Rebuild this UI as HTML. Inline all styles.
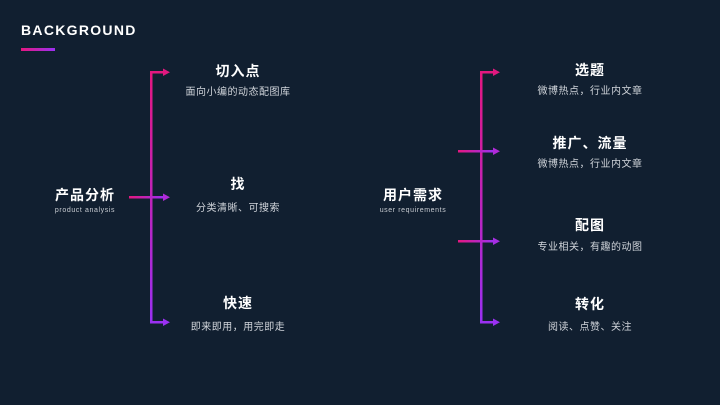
<!DOCTYPE html>
<html><head><meta charset="utf-8"><style>
body{margin:0;background:#111f30;}
svg{display:block}
text{font-family:"Liberation Sans","Noto Sans CJK SC",sans-serif;fill:#fff;text-anchor:middle}
.t{font-size:14px;font-weight:bold;letter-spacing:1px}
.s{font-size:10px;fill:#d0d4da;letter-spacing:0.5px}
.e{font-size:7px;fill:#c8ccd2;letter-spacing:0.6px}
</style></head><body>
<svg width="720" height="405" viewBox="0 0 720 405">
<defs>
<linearGradient id="gv" x1="0" y1="0" x2="0" y2="1"><stop offset="0" stop-color="#e5177f"/><stop offset="1" stop-color="#9a30f2"/></linearGradient>
<linearGradient id="gh" x1="0" y1="0" x2="1" y2="0"><stop offset="0" stop-color="#e5177f"/><stop offset="1" stop-color="#9a30f2"/></linearGradient>
</defs>
<rect width="720" height="405" fill="#111f30"/>
<text x="21" y="35" style="text-anchor:start;font-size:14px;font-weight:bold;letter-spacing:1.3px">BACKGROUND</text>
<rect x="21" y="48" width="34" height="3" fill="url(#gh)"/>
<!-- left -->
<rect x="150" y="71" width="2.5" height="252" fill="url(#gv)"/>
<rect x="150" y="71" width="14" height="2.5" fill="#e2187f"/><polygon points="163,68.5 170,72.2 163,76" fill="#e2187f"/>
<rect x="129" y="196" width="35" height="2.5" fill="url(#gh)"/><polygon points="163,193.5 170,197.2 163,201" fill="#b02ad8"/>
<rect x="150" y="321" width="14" height="2.5" fill="#9a30f2"/><polygon points="163,318.5 170,322.2 163,326" fill="#9a30f2"/>
<!-- right -->
<rect x="480" y="71" width="2.5" height="252" fill="url(#gv)"/>
<rect x="480" y="71" width="14" height="2.5" fill="#e2187f"/><polygon points="493,68.5 500,72.2 493,76" fill="#e2187f"/>
<rect x="458" y="150" width="36" height="2.5" fill="url(#gh)"/><polygon points="493,147.5 500,151.2 493,155" fill="#b02ad8"/>
<rect x="458" y="240" width="36" height="2.5" fill="url(#gh)"/><polygon points="493,237.5 500,241.2 493,245" fill="#a52ee2"/>
<rect x="480" y="321" width="14" height="2.5" fill="#9a30f2"/><polygon points="493,318.5 500,322.2 493,326" fill="#9a30f2"/>
<!-- left labels -->
<text class="t" x="85" y="200">产品分析</text>
<text class="e" x="85" y="212">product analysis</text>
<text class="t" x="238" y="76">切入点</text>
<text class="s" x="238" y="95">面向小编的动态配图库</text>
<text class="t" x="238" y="189">找</text>
<text class="s" x="238" y="211">分类清晰、可搜索</text>
<text class="t" x="238" y="308">快速</text>
<text class="s" x="238" y="330">即来即用，用完即走</text>
<!-- right labels -->
<text class="t" x="413" y="200">用户需求</text>
<text class="e" x="413" y="212">user requirements</text>
<text class="t" x="590" y="75">选题</text>
<text class="s" x="590" y="94">微博热点，行业内文章</text>
<text class="t" x="590" y="148">推广、流量</text>
<text class="s" x="590" y="167">微博热点，行业内文章</text>
<text class="t" x="590" y="230">配图</text>
<text class="s" x="590" y="250">专业相关，有趣的动图</text>
<text class="t" x="590" y="309">转化</text>
<text class="s" x="590" y="330">阅读、点赞、关注</text>
</svg>
</body></html>
